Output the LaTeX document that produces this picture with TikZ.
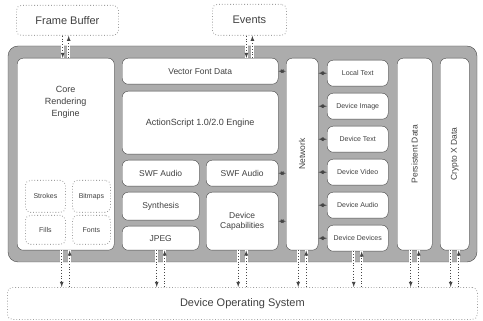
\documentclass[tikz,border=0pt]{standalone}
\usepackage{fontspec}
\setmainfont{Liberation Sans}
\usetikzlibrary{arrows}

\tikzset{
	frame/.style={draw=gray!55!black, fill=gray!65, rounded corners=10pt},
	blk/.style={draw=gray!50!black, fill=white, rounded corners=6pt, inner sep=1pt, align=center, text=black!75, font=\fontsize{8.5}{10}\selectfont},
	subblk/.style={blk, font=\fontsize{7}{8}\selectfont},
	dotbox/.style={draw=gray!75, dotted, thick, rounded corners=5pt, align=center, inner sep=1pt, text=black!75},
	link/.style={gray!55!black, dotted, thick, ->},
	cross/.style={link, preaction={draw=white, line width=3pt, solid, -}},
}

\begin{document}
\begin{tikzpicture}[>=latex, x=1pt, y=-1pt]
			%\draw [help lines] (0,0) grid (483,321);
			\useasboundingbox (0,0) rectangle (483,321);
			
			% outside
			\node [dotbox, font=\fontsize{11}{13}\selectfont, minimum width=102, minimum height=30, anchor=north west] (fb) at (16,5) {Frame Buffer};
			\node [dotbox, font=\fontsize{11}{13}\selectfont, minimum width=74, minimum height=31, anchor=north west] (ev) at (212,4) {Events};
			\node [dotbox, font=\fontsize{11}{13}\selectfont, minimum width=470, minimum height=32, anchor=north west] (os) at (7,287) {Device Operating System};
			
			\draw [frame] (8,46) rectangle (477,262);
			
			% core
			\node [blk, minimum width=97, minimum height=192, anchor=north west] (core) at (17,58) {};
			\node [align=center, text=black!75, font=\fontsize{9}{12}\selectfont] (corelbl) at ([yshift=-44pt]core.north) {Core\\Rendering\\Engine};
			\node [dotbox, font=\fontsize{7}{8}\selectfont, minimum width=40, minimum height=32, anchor=north west] (strokes) at (25,180) {Strokes};
			\node [dotbox, font=\fontsize{7}{8}\selectfont, minimum width=38, minimum height=32, anchor=north west] (bitmaps) at (72,180) {Bitmaps};
			\node [dotbox, font=\fontsize{7}{8}\selectfont, minimum width=40, minimum height=29, anchor=north west] (fills) at (25,215) {Fills};
			\node [dotbox, font=\fontsize{7}{8}\selectfont, minimum width=38, minimum height=29, anchor=north west] (fonts) at (72,215) {Fonts};
			
			% middle
			\node [blk, minimum width=156, minimum height=26, anchor=north west] (vfd) at (122,58) {Vector Font Data};
			\node [blk, font=\fontsize{9}{11}\selectfont, minimum width=156, minimum height=63, anchor=north west] (as) at (122,91) {ActionScript 1.0/2.0 Engine};
			\node [blk, minimum width=77, minimum height=26, anchor=north west] (swfa) at (122,160) {SWF Audio};
			\node [blk, minimum width=72, minimum height=26, anchor=north west] (swfb) at (206,160) {SWF Audio};
			\node [blk, minimum width=77, minimum height=28, anchor=north west] (syn) at (122,192) {Synthesis};
			\node [blk, minimum width=77, minimum height=24, anchor=north west] (jpeg) at (122,226) {JPEG};
			\node [blk, minimum width=72, minimum height=58, anchor=north west] (devcap) at (206,192) {Device\\Capabilities};
			
			% right
			\node [blk, minimum width=32, minimum height=192, anchor=north west, label={[rotate=90, text=black!75, font=\fontsize{8.5}{10}\selectfont]center:Network}] (net) at (286,58) {};
			\foreach \t [count=\i] in {Local Text, Device Image, Device Text, Device Video, Device Audio, Device Devices}
				\node [subblk, minimum width=61, minimum height=26, anchor=north west] (dev\i) at (327,{60+33*(\i-1)}) {\t};
			\node [blk, minimum width=35, minimum height=192, anchor=north west, label={[rotate=90, text=black!75, font=\fontsize{8.5}{10}\selectfont]center:Persistent Data}] (pers) at (397,58) {};
			\node [blk, minimum width=29, minimum height=192, anchor=north west, label={[rotate=90, text=black!75, font=\fontsize{8.5}{10}\selectfont]center:Crypto X Data}] (cry) at (440,58) {};
			
			% links
			\draw [cross] ([xshift=-3pt]core.north |- fb.south) -- ([xshift=-3pt]core.north);
			\draw [cross] ([xshift=3pt]core.north) -- ([xshift=3pt]core.north |- fb.south);
			\draw [cross] ([xshift=-3pt]ev.south) -- ([xshift=-3pt]ev.south |- vfd.north);
			\draw [cross] ([xshift=3pt]ev.south |- vfd.north) -- ([xshift=3pt]ev.south);
			\foreach \n in {core,jpeg,devcap,net,dev6,pers,cry} {
				\draw [cross] ([xshift=-4pt]\n.south) -- ([xshift=-4pt]\n.south |- os.north);
				\draw [cross] ([xshift=4pt]\n.south |- os.north) -- ([xshift=4pt]\n.south);
			}
			\foreach \n in {vfd,swfb,devcap}
				\draw [link, <->] (\n.east) -- (\n.east -| net.west);
			\foreach \i in {1,...,6}
				\draw [link, <->] (dev\i.west -| net.east) -- (dev\i.west);
	\end{tikzpicture}
\end{document}
